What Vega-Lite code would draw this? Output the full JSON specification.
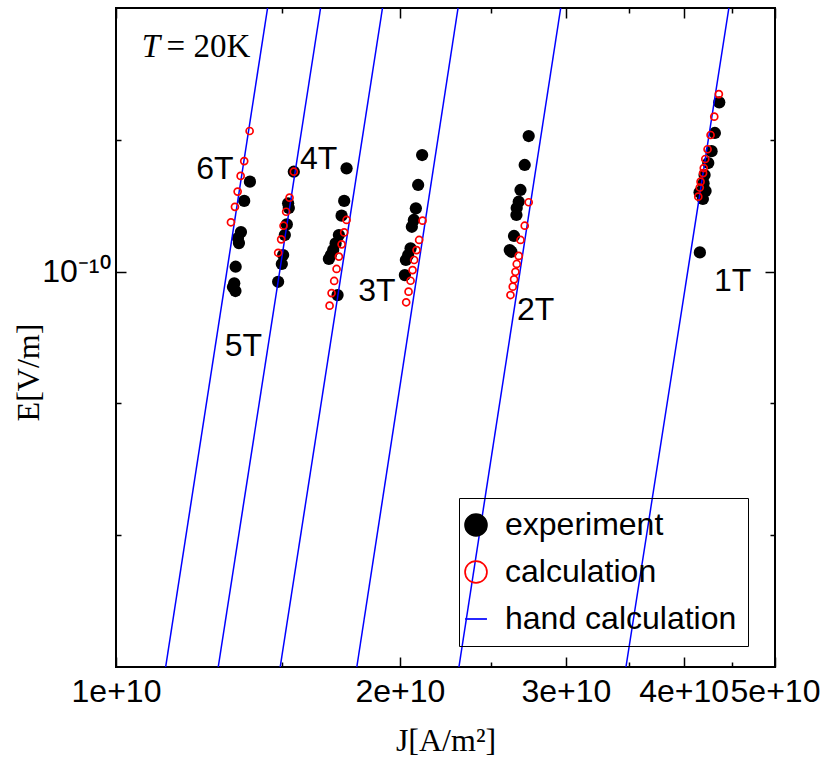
{
  "$schema": "https://vega.github.io/schema/vega-lite/v6.json",
  "width": 659,
  "height": 659,
  "autosize": {"type": "none"},
  "padding": {"left": 116, "top": 8, "right": 50, "bottom": 95},
  "background": "white",
  "config": {
    "view": {"stroke": "black", "strokeWidth": 2},
    "axis": {
      "grid": false,
      "domain": false,
      "tickColor": "black",
      "tickWidth": 1.5,
      "labelFont": "Liberation Sans",
      "labelFontSize": 32,
      "labelColor": "black",
      "titleFont": "Liberation Serif",
      "titleFontSize": 32,
      "titleFontWeight": "normal",
      "titleColor": "black",
      "labelFlush": false,
      "labelOverlap": false
    }
  },
  "datasets": {
    "exp": [
      {"B": "6T", "J": 1.3869e10, "E": 1.605e-10},
      {"B": "6T", "J": 1.3677e10, "E": 1.450e-10},
      {"B": "6T", "J": 1.3568e10, "E": 1.231e-10},
      {"B": "6T", "J": 1.3469e10, "E": 1.193e-10},
      {"B": "6T", "J": 1.3502e10, "E": 1.162e-10},
      {"B": "6T", "J": 1.3394e10, "E": 1.026e-10},
      {"B": "6T", "J": 1.3348e10, "E": 0.940e-10},
      {"B": "6T", "J": 1.3306e10, "E": 0.922e-10},
      {"B": "6T", "J": 1.3387e10, "E": 0.903e-10},
      {"B": "5T", "J": 1.5438e10, "E": 1.691e-10},
      {"B": "5T", "J": 1.5225e10, "E": 1.432e-10},
      {"B": "5T", "J": 1.5251e10, "E": 1.397e-10},
      {"B": "5T", "J": 1.5177e10, "E": 1.282e-10},
      {"B": "5T", "J": 1.5103e10, "E": 1.212e-10},
      {"B": "5T", "J": 1.5041e10, "E": 1.091e-10},
      {"B": "5T", "J": 1.4993e10, "E": 1.041e-10},
      {"B": "5T", "J": 1.4858e10, "E": 0.948e-10},
      {"B": "4T", "J": 1.7561e10, "E": 1.721e-10},
      {"B": "4T", "J": 1.7459e10, "E": 1.450e-10},
      {"B": "4T", "J": 1.7349e10, "E": 1.342e-10},
      {"B": "4T", "J": 1.7235e10, "E": 1.212e-10},
      {"B": "4T", "J": 1.7097e10, "E": 1.160e-10},
      {"B": "4T", "J": 1.6997e10, "E": 1.120e-10},
      {"B": "4T", "J": 1.6902e10, "E": 1.091e-10},
      {"B": "4T", "J": 1.6819e10, "E": 1.069e-10},
      {"B": "4T", "J": 1.7180e10, "E": 0.884e-10},
      {"B": "3T", "J": 2.1121e10, "E": 1.846e-10},
      {"B": "3T", "J": 2.0916e10, "E": 1.577e-10},
      {"B": "3T", "J": 2.0799e10, "E": 1.395e-10},
      {"B": "3T", "J": 2.0697e10, "E": 1.312e-10},
      {"B": "3T", "J": 2.0597e10, "E": 1.266e-10},
      {"B": "3T", "J": 2.0532e10, "E": 1.130e-10},
      {"B": "3T", "J": 2.0412e10, "E": 1.091e-10},
      {"B": "3T", "J": 2.0298e10, "E": 1.063e-10},
      {"B": "3T", "J": 2.0248e10, "E": 0.982e-10},
      {"B": "2T", "J": 2.7399e10, "E": 2.040e-10},
      {"B": "2T", "J": 2.7133e10, "E": 1.752e-10},
      {"B": "2T", "J": 2.6854e10, "E": 1.536e-10},
      {"B": "2T", "J": 2.6738e10, "E": 1.444e-10},
      {"B": "2T", "J": 2.6608e10, "E": 1.397e-10},
      {"B": "2T", "J": 2.6590e10, "E": 1.347e-10},
      {"B": "2T", "J": 2.6434e10, "E": 1.206e-10},
      {"B": "2T", "J": 2.6268e10, "E": 1.110e-10},
      {"B": "2T", "J": 2.6160e10, "E": 1.120e-10},
      {"B": "1T", "J": 4.3637e10, "E": 2.436e-10},
      {"B": "1T", "J": 4.3170e10, "E": 2.073e-10},
      {"B": "1T", "J": 4.2824e10, "E": 1.884e-10},
      {"B": "1T", "J": 4.2481e10, "E": 1.770e-10},
      {"B": "1T", "J": 4.2099e10, "E": 1.662e-10},
      {"B": "1T", "J": 4.1996e10, "E": 1.591e-10},
      {"B": "1T", "J": 4.1588e10, "E": 1.518e-10},
      {"B": "1T", "J": 4.2202e10, "E": 1.528e-10},
      {"B": "1T", "J": 4.1926e10, "E": 1.465e-10},
      {"B": "1T", "J": 4.1619e10, "E": 1.106e-10}
    ],
    "calc": [
      {"B": "6T", "J": 1.3859e10, "E": 2.095e-10},
      {"B": "6T", "J": 1.3677e10, "E": 1.788e-10},
      {"B": "6T", "J": 1.3558e10, "E": 1.654e-10},
      {"B": "6T", "J": 1.3459e10, "E": 1.523e-10},
      {"B": "6T", "J": 1.3371e10, "E": 1.406e-10},
      {"B": "6T", "J": 1.3241e10, "E": 1.296e-10},
      {"B": "5T", "J": 1.5439e10, "E": 1.691e-10},
      {"B": "5T", "J": 1.5278e10, "E": 1.475e-10},
      {"B": "5T", "J": 1.5152e10, "E": 1.370e-10},
      {"B": "5T", "J": 1.5056e10, "E": 1.273e-10},
      {"B": "5T", "J": 1.4968e10, "E": 1.185e-10},
      {"B": "5T", "J": 1.4859e10, "E": 1.104e-10},
      {"B": "4T", "J": 1.7561e10, "E": 1.312e-10},
      {"B": "4T", "J": 1.7459e10, "E": 1.229e-10},
      {"B": "4T", "J": 1.7349e10, "E": 1.154e-10},
      {"B": "4T", "J": 1.7235e10, "E": 1.082e-10},
      {"B": "4T", "J": 1.7138e10, "E": 1.014e-10},
      {"B": "4T", "J": 1.7038e10, "E": 0.952e-10},
      {"B": "4T", "J": 1.6930e10, "E": 0.893e-10},
      {"B": "4T", "J": 1.6848e10, "E": 0.836e-10},
      {"B": "3T", "J": 2.1142e10, "E": 1.307e-10},
      {"B": "3T", "J": 2.0966e10, "E": 1.181e-10},
      {"B": "3T", "J": 2.0834e10, "E": 1.120e-10},
      {"B": "3T", "J": 2.0712e10, "E": 1.063e-10},
      {"B": "3T", "J": 2.0632e10, "E": 1.008e-10},
      {"B": "3T", "J": 2.0532e10, "E": 0.953e-10},
      {"B": "3T", "J": 2.0432e10, "E": 0.900e-10},
      {"B": "3T", "J": 2.0313e10, "E": 0.851e-10},
      {"B": "2T", "J": 2.7399e10, "E": 1.440e-10},
      {"B": "2T", "J": 2.7134e10, "E": 1.273e-10},
      {"B": "2T", "J": 2.6855e10, "E": 1.181e-10},
      {"B": "2T", "J": 2.6740e10, "E": 1.086e-10},
      {"B": "2T", "J": 2.6610e10, "E": 1.041e-10},
      {"B": "2T", "J": 2.6526e10, "E": 0.999e-10},
      {"B": "2T", "J": 2.6436e10, "E": 0.960e-10},
      {"B": "2T", "J": 2.6352e10, "E": 0.924e-10},
      {"B": "2T", "J": 2.6205e10, "E": 0.884e-10},
      {"B": "1T", "J": 4.3594e10, "E": 2.544e-10},
      {"B": "1T", "J": 4.3107e10, "E": 2.259e-10},
      {"B": "1T", "J": 4.2720e10, "E": 2.051e-10},
      {"B": "1T", "J": 4.2408e10, "E": 1.903e-10},
      {"B": "1T", "J": 4.2171e10, "E": 1.808e-10},
      {"B": "1T", "J": 4.2016e10, "E": 1.724e-10},
      {"B": "1T", "J": 4.1945e10, "E": 1.679e-10},
      {"B": "1T", "J": 4.1690e10, "E": 1.605e-10},
      {"B": "1T", "J": 4.1608e10, "E": 1.556e-10},
      {"B": "1T", "J": 4.1456e10, "E": 1.483e-10}
    ],
    "hand": [
      {"B": "6T", "J": 1.1289e10, "E": 1.25e-11},
      {"B": "6T", "J": 1.4480e10, "E": 4e-10},
      {"B": "5T", "J": 1.2836e10, "E": 1.25e-11},
      {"B": "5T", "J": 1.6482e10, "E": 4e-10},
      {"B": "4T", "J": 1.4933e10, "E": 1.25e-11},
      {"B": "4T", "J": 1.9172e10, "E": 4e-10},
      {"B": "3T", "J": 1.8006e10, "E": 1.25e-11},
      {"B": "3T", "J": 2.3056e10, "E": 4e-10},
      {"B": "2T", "J": 2.3106e10, "E": 1.25e-11},
      {"B": "2T", "J": 2.9626e10, "E": 4e-10},
      {"B": "1T", "J": 3.4745e10, "E": 1.25e-11},
      {"B": "1T", "J": 4.4671e10, "E": 4e-10}
    ],
    "labels": [
      {"t": "6T", "J": 1.2733e10, "E": 1.628e-10},
      {"t": "4T", "J": 1.6402e10, "E": 1.715e-10},
      {"t": "5T", "J": 1.3650e10, "E": 6.415e-11},
      {"t": "3T", "J": 1.8907e10, "E": 8.567e-11},
      {"t": "2T", "J": 2.7869e10, "E": 7.772e-11},
      {"t": "1T", "J": 4.5077e10, "E": 9.03e-11}
    ],
    "tvar": [{"t": "T", "J": 1.0647e10, "E": 3.096e-10}],
    "tval": [{"t": "= 20K", "J": 1.1316e10, "E": 3.096e-10}]
  },
  "resolve": {"axis": {"x": "independent", "y": "independent"}},
  "layer": [
    {
      "data": {"name": "exp"},
      "mark": {"type": "point", "filled": true, "size": 150, "opacity": 1},
      "encoding": {
        "x": {"field": "J", "type": "quantitative",
          "scale": {"type": "log", "domain": [1e10, 5e10], "nice": false},
          "axis": {"orient": "bottom", "values": [1e10, 2e10, 3e10, 4e10, 5e10], "tickSize": -10, "labelPadding": 19,
            "labelExpr": "format(datum.value, '.0e')", "title": "J[A/m²]", "titleY": 83, "titleBaseline": "alphabetic"}},
        "y": {"field": "E", "type": "quantitative",
          "scale": {"type": "log", "domain": [1.25e-11, 4e-10], "nice": false},
          "axis": {"orient": "left", "values": [1e-10], "tickSize": -10, "labelPadding": 16,
            "labelExpr": "'10⁻¹⁰'", "title": "E[V/m]", "titleX": -78, "titleY": 364, "titleAngle": -90, "titleBaseline": "alphabetic"}},
        "fill": {"datum": "experiment", "type": "nominal",
          "scale": {"domain": ["experiment", "calculation", "hand calculation"], "range": ["black", "transparent", "transparent"]},
          "legend": {
            "title": null, "orient": "none", "legendX": 343, "legendY": 490,
            "strokeColor": "black", "padding": 11, "symbolSize": 480, "symbolStrokeWidth": 1.7,
            "symbolOffset": -10, "symbolOpacity": 1,
            "labelFont": "Liberation Sans", "labelFontSize": 32, "labelColor": "black", "labelOffset": 13,
            "rowPadding": 15, "labelLimit": 400,
            "encode": {"legend": {"strokeWidth": {"value": 2}}}
          }},
        "shape": {"datum": "experiment", "type": "nominal",
          "scale": {"domain": ["experiment", "calculation", "hand calculation"], "range": ["circle", "circle", "stroke"]}}
      }
    },
    {
      "data": {"name": "hand"},
      "mark": {"type": "line", "strokeWidth": 1.5, "clip": true},
      "encoding": {
        "x": {"field": "J", "type": "quantitative",
          "scale": {"type": "log", "domain": [1e10, 5e10], "nice": false},
          "axis": {"orient": "bottom", "values": [1.5e10, 2.5e10, 3.5e10, 4.5e10], "tickSize": -5, "labels": false, "title": null}},
        "y": {"field": "E", "type": "quantitative",
          "scale": {"type": "log", "domain": [1.25e-11, 4e-10], "nice": false},
          "axis": {"orient": "left", "values": [2.5e-11, 5e-11, 2e-10], "tickSize": -5, "labels": false, "title": null}},
        "detail": {"field": "B"},
        "stroke": {"datum": "hand calculation", "type": "nominal",
          "scale": {"domain": ["experiment", "calculation", "hand calculation"], "range": ["black", "red", "blue"]}}
      }
    },
    {
      "data": {"name": "calc"},
      "mark": {"type": "point", "filled": false, "size": 49, "strokeWidth": 1.7, "opacity": 1},
      "encoding": {
        "x": {"field": "J", "type": "quantitative",
          "scale": {"type": "log", "domain": [1e10, 5e10], "nice": false},
          "axis": {"orient": "top", "values": [1e10, 2e10, 3e10, 4e10, 5e10], "tickSize": -10, "labels": false, "title": null}},
        "y": {"field": "E", "type": "quantitative",
          "scale": {"type": "log", "domain": [1.25e-11, 4e-10], "nice": false},
          "axis": {"orient": "right", "values": [1e-10], "tickSize": -10, "labels": false, "title": null}},
        "stroke": {"datum": "calculation", "type": "nominal",
          "scale": {"domain": ["experiment", "calculation", "hand calculation"], "range": ["black", "red", "blue"]}},
        "shape": {"datum": "calculation", "type": "nominal",
          "scale": {"domain": ["experiment", "calculation", "hand calculation"], "range": ["circle", "circle", "stroke"]}}
      }
    },
    {
      "data": {"name": "labels"},
      "mark": {"type": "text", "font": "Liberation Sans", "fontSize": 32, "align": "center", "baseline": "alphabetic", "color": "black"},
      "encoding": {
        "x": {"field": "J", "type": "quantitative",
          "scale": {"type": "log", "domain": [1e10, 5e10], "nice": false},
          "axis": {"orient": "top", "values": [1.5e10, 2.5e10, 3.5e10, 4.5e10], "tickSize": -5, "labels": false, "title": null}},
        "y": {"field": "E", "type": "quantitative",
          "scale": {"type": "log", "domain": [1.25e-11, 4e-10], "nice": false},
          "axis": {"orient": "right", "values": [2.5e-11, 5e-11, 2e-10], "tickSize": -5, "labels": false, "title": null}},
        "text": {"field": "t"}
      }
    },
    {
      "data": {"name": "tvar"},
      "mark": {"type": "text", "font": "Liberation Serif", "fontStyle": "italic", "fontSize": 33, "align": "left", "baseline": "alphabetic", "color": "black"},
      "encoding": {
        "x": {"field": "J", "type": "quantitative", "scale": {"type": "log", "domain": [1e10, 5e10], "nice": false}, "axis": null},
        "y": {"field": "E", "type": "quantitative", "scale": {"type": "log", "domain": [1.25e-11, 4e-10], "nice": false}, "axis": null},
        "text": {"field": "t"}
      }
    },
    {
      "data": {"name": "tval"},
      "mark": {"type": "text", "font": "Liberation Serif", "fontSize": 33, "align": "left", "baseline": "alphabetic", "color": "black"},
      "encoding": {
        "x": {"field": "J", "type": "quantitative", "scale": {"type": "log", "domain": [1e10, 5e10], "nice": false}, "axis": null},
        "y": {"field": "E", "type": "quantitative", "scale": {"type": "log", "domain": [1.25e-11, 4e-10], "nice": false}, "axis": null},
        "text": {"field": "t"}
      }
    }
  ]
}
